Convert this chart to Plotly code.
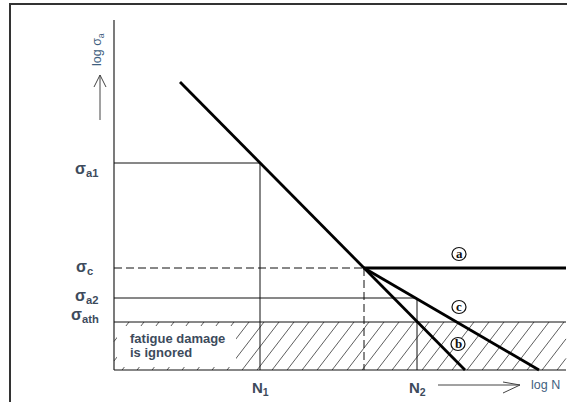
import plotly.graph_objects as go

# ---- diagram values (log N along x, log sigma_a along y; arbitrary units) ----
logN_axis = 114          # origin of the log N axis
logN_start = 180         # start of S-N line
logN_1 = 260             # N1
logN_knee = 364          # knee point (sigma_c)
logN_2 = 417             # N2
logN_end_b = 465         # end of line b at the floor
logN_end_c = 539         # end of line c at the floor
logN_max = 566           # right end of diagram

logS_top = 382           # top of sigma axis
logS_start = 320
logS_a1 = 239
logS_c = 134
logS_a2 = 104
logS_ath = 80
logS_floor = 32

sigma_labels = ["σ<sub>a1</sub>", "σ<sub>c</sub>", "σ<sub>a2</sub>", "σ<sub>ath</sub>"]
sigma_values = [logS_a1, logS_c, logS_a2, logS_ath]
n_labels = ["N<sub>1</sub>", "N<sub>2</sub>"]
n_values = [logN_1, logN_2]
curve_tags = ["a", "c", "b"]

W, H = 567, 402
TXT = "#3d4b5c"
fig = go.Figure()

def line(xs, ys, width=1, dash=None, color="#111"):
    fig.add_trace(go.Scatter(x=xs, y=ys, mode="lines", hoverinfo="skip",
                             line=dict(color=color, width=width, dash=dash),
                             showlegend=False))

# hatch pattern for the region below sigma_ath
slope, spacing = 1.3, 15
hx, hy = [], []
run = (logS_ath - logS_floor) / slope
xb = logN_axis - run
while xb < logN_max:
    x0, y0 = xb, logS_floor
    x1, y1 = xb + run, logS_ath
    if x0 < logN_axis:
        y0 = logS_floor + slope * (logN_axis - x0); x0 = logN_axis
    if x1 > logN_max:
        y1 = logS_floor + slope * (logN_max - xb); x1 = logN_max
    if x1 > x0:
        hx += [x0, x1, None]; hy += [y0, y1, None]
    xb += spacing
line(hx, hy, width=0.8, color="#333")

# white box behind the note
fig.add_shape(type="rect", x0=logN_axis + 3, x1=236, y0=logS_floor + 3, y1=logS_ath - 4,
              fillcolor="white", line=dict(width=0), layer="above")

# frame
line([10, 10, W], [0, H - 4, H - 4], width=2, color="#333")
# sigma axis
line([logN_axis, logN_axis], [logS_floor, logS_top], width=1.2, color="#222")
# floor and sigma_ath lines
line([logN_axis, logN_max], [logS_floor, logS_floor], width=1.2)
line([logN_axis, logN_max], [logS_ath, logS_ath], width=1)

# sigma_a1 / N1 guides
line([logN_axis, logN_1, logN_1], [logS_a1, logS_a1, logS_floor], width=1)
# sigma_a2 / N2 guides
line([logN_axis, logN_2, logN_2], [logS_a2, logS_a2, logS_floor], width=1)
# sigma_c dashed guides
line([logN_axis, logN_knee], [logS_c, logS_c], width=1, dash="8px,4px")
line([logN_knee, logN_knee], [logS_c, logS_floor], width=1, dash="8px,4px")

# S-N curves
line([logN_start, logN_knee, logN_end_b], [logS_start, logS_c, logS_floor], width=2.8, color="#000")
line([logN_knee, logN_max], [logS_c, logS_c], width=2.8, color="#000")
line([logN_knee, logN_end_c], [logS_c, logS_floor], width=2.8, color="#000")

# axis arrows (open heads)
line([100, 100], [282, 327], width=1, color="#444")
line([94, 100, 106], [315, 327, 315], width=1, color="#444")
line([438, 520], [17, 17], width=1, color="#444")
line([503, 520, 503], [20, 17, 9], width=1, color="#444")

ann = []
label_y = [233, 135, 106, 87]
label_x = [73, 74, 73, 69]
for lab, ly, lx in zip(sigma_labels, label_y, label_x):
    ann.append(dict(x=lx, y=ly, text="<b>" + lab + "</b>", showarrow=False, xanchor="left",
                    yanchor="middle",
                    font=dict(family="Liberation Sans, Arial", size=16, color=TXT)))
for lab, nx in zip(n_labels, n_values):
    ann.append(dict(x=nx, y=14, text="<b>" + lab + "</b>", showarrow=False,
                    xanchor="center", yanchor="middle",
                    font=dict(family="Liberation Sans, Arial", size=15, color=TXT)))
ann.append(dict(x=529, y=17, text="log N", showarrow=False, xanchor="left", yanchor="middle",
                font=dict(family="Liberation Sans, Arial", size=12.5, color="#3f5f80")))
ann.append(dict(x=98, y=352, text="log σ<sub>a</sub>", showarrow=False, textangle=-90,
                xanchor="center", yanchor="middle",
                font=dict(family="Liberation Sans, Arial", size=12.5, color="#3f5f80")))
ann.append(dict(x=128, y=64, text="<b>fatigue damage</b>", showarrow=False, xanchor="left",
                yanchor="middle", font=dict(family="Liberation Sans, Arial", size=13, color=TXT)))
ann.append(dict(x=128, y=50, text="<b>is ignored</b>", showarrow=False, xanchor="left",
                yanchor="middle", font=dict(family="Liberation Sans, Arial", size=13, color=TXT)))

tag_pos = [(459, 148), (459, 95), (458, 58)]
for t, (cx, cy) in zip(curve_tags, tag_pos):
    fig.add_shape(type="circle", x0=cx - 7, x1=cx + 7, y0=cy - 6.5, y1=cy + 6.5,
                  line=dict(color="#111", width=1.2), fillcolor="white", layer="above")
    ann.append(dict(x=cx, y=cy + 1, text="<b>" + t + "</b>", showarrow=False,
                    xanchor="center", yanchor="middle",
                    font=dict(family="Liberation Serif, Times New Roman", size=13, color="#111")))

fig.update_layout(
    width=W, height=H, autosize=False,
    margin=dict(l=0, r=0, t=0, b=0),
    paper_bgcolor="white", plot_bgcolor="white",
    xaxis=dict(range=[0, W], visible=False, fixedrange=True),
    yaxis=dict(range=[0, H], visible=False, fixedrange=True),
    annotations=ann, showlegend=False,
)
fig.write_html("out.html", config={"displayModeBar": False},
               post_script="document.body.style.margin='0';document.body.style.overflow='hidden';")
